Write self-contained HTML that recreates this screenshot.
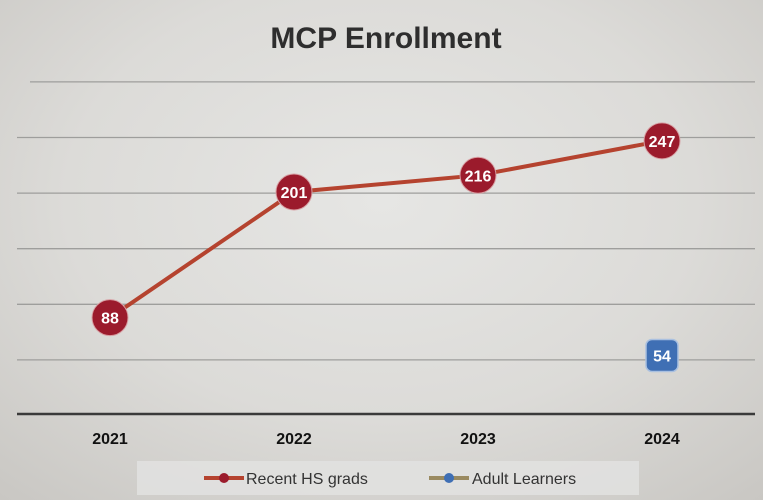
<!DOCTYPE html>
<html><head><meta charset="utf-8">
<style>
html,body{margin:0;padding:0;}
body{width:763px;height:500px;overflow:hidden;font-family:"Liberation Sans",sans-serif;
background:radial-gradient(ellipse 75% 80% at 50% 40%,#e6e6e4 0%,#dcdbd8 55%,#c9c7c3 100%);}
svg{position:absolute;left:0;top:0;}
</style></head>
<body>
<svg id="chart" width="763" height="500">
<text x="386" y="48" text-anchor="middle" font-size="30" font-weight="bold" fill="#2e2e2e">MCP Enrollment</text>
<g id="grid"></g><g id="series"></g><g id="xlabels"></g>
<g>
<rect x="137" y="461" width="502" height="34" fill="#e2e2e0" opacity="0.85"/>
<g>
<line x1="204" y1="478" x2="244" y2="478" stroke="#b5432f" stroke-width="4"/>
<circle cx="224" cy="478" r="5" fill="#9b1b2c"/>
<text x="246" y="484" font-size="16" fill="#333">Recent HS grads</text></g>
<g>
<line x1="429" y1="478" x2="469" y2="478" stroke="#9a8a60" stroke-width="4"/>
<circle cx="449" cy="478" r="5" fill="#3f6fb4"/>
<text x="472" y="484" font-size="16" fill="#333">Adult Learners</text></g>
</g>
</svg>
<script>
const categories=["2021","2022","2023","2024"];
const recentHS=[88,201,216,247];
const adultLearners=[null,null,null,54];
const gridTicks=[0,50,100,150,200,250,300];
const NS="http://www.w3.org/2000/svg";
const x=i=>110+i*184;
const y=v=>415.5-v*1.112;
function mk(tag,attrs,parent){const e=document.createElementNS(NS,tag);for(const k in attrs)e.setAttribute(k,attrs[k]);parent.appendChild(e);return e;}
const grid=document.getElementById('grid'),ser=document.getElementById('series'),xl=document.getElementById('xlabels');
gridTicks.forEach(t=>{
 const yy=t===0?414:y(t);
 const l=mk('line',{x1:t===300?30:17,x2:755,y1:yy,y2:yy,stroke:t===0?'#3a3a3a':'#9e9e9c','stroke-width':t===0?2.5:1.3},grid);
 
 
});
categories.forEach((c,i)=>{
 const t=mk('text',{x:x(i),y:444,'text-anchor':'middle','font-size':16,'font-weight':'bold',fill:'#111'},xl);t.textContent=c;
 
 
});
const pts=recentHS.map((v,i)=>x(i)+','+y(v)).join(' ');
const pl=mk('polyline',{points:pts,fill:'none',stroke:'#b5432f','stroke-width':4},ser);


recentHS.forEach((v,i)=>{
 const c=mk('circle',{cx:x(i),cy:y(v),r:18,fill:'#9b1b2c',stroke:'#d8a0a4','stroke-width':1},ser);
 
 
 const t=mk('text',{x:x(i),y:y(v)+6,'text-anchor':'middle','font-size':16,'font-weight':'bold',fill:'#fff'},ser);t.textContent=v;
 
 
});
adultLearners.forEach((v,i)=>{
 if(v==null)return;
 const r=mk('rect',{x:x(i)-16,y:y(v)-16,width:32,height:32,rx:6,fill:'#3f6fb4',stroke:'#a9c0e0','stroke-width':1.5},ser);
 
 
 const t=mk('text',{x:x(i),y:y(v)+6,'text-anchor':'middle','font-size':16,'font-weight':'bold',fill:'#fff'},ser);t.textContent=v;
 
 
});
</script>
</body></html>
